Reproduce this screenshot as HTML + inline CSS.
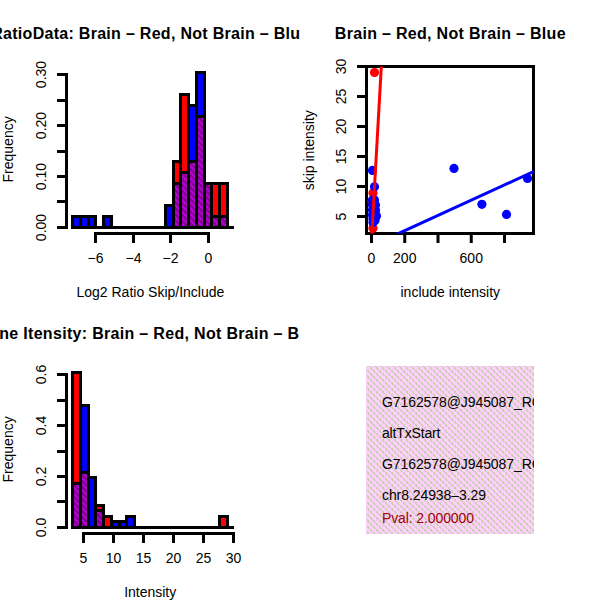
<!DOCTYPE html><html><head><meta charset="utf-8"><style>html,body{margin:0;padding:0;background:#fff;}svg{display:block;}</style></head><body>
<svg width="600" height="600" viewBox="0 0 600 600" style="font-family:'Liberation Sans', sans-serif">
<defs>
<pattern id="hatch" patternUnits="userSpaceOnUse" width="6" height="6" x="1" y="1"><rect width="6" height="6" fill="#b200d2"/><path d="M2,0h1v1h-1zM3,0h1v1h-1zM4,0h1v1h-1zM3,1h1v1h-1zM4,1h1v1h-1zM5,1h1v1h-1zM4,2h1v1h-1zM5,2h1v1h-1zM0,2h1v1h-1zM5,3h1v1h-1zM0,3h1v1h-1zM1,3h1v1h-1zM0,4h1v1h-1zM1,4h1v1h-1zM2,4h1v1h-1zM1,5h1v1h-1zM2,5h1v1h-1zM3,5h1v1h-1z" fill="#82008f" shape-rendering="crispEdges"/></pattern>
<pattern id="pink" patternUnits="userSpaceOnUse" width="6" height="6" x="1" y="1"><rect width="6" height="6" fill="#ffd0ff"/><path d="M3,0h1v1h-1zM4,0h1v1h-1zM3,1h1v1h-1zM4,1h1v1h-1zM4,2h1v1h-1zM5,2h1v1h-1zM0,3h1v1h-1zM1,3h1v1h-1zM0,4h1v1h-1zM1,4h1v1h-1zM1,5h1v1h-1zM2,5h1v1h-1z" fill="#cbd0b0" shape-rendering="crispEdges"/></pattern>
<clipPath id="c1"><rect x="0" y="0" width="300" height="300"/></clipPath>
<clipPath id="c2"><rect x="300" y="0" width="300" height="300"/></clipPath>
<clipPath id="c3"><rect x="0" y="300" width="300" height="300"/></clipPath>
<clipPath id="c2plot"><rect x="366.5" y="66.5" width="167" height="167"/></clipPath>
<clipPath id="c4plot"><rect x="366" y="366" width="168" height="168"/></clipPath>
</defs>
<g clip-path="url(#c1)">
<text x="150.2" y="38.8" text-anchor="middle" font-size="16" font-weight="bold" textLength="318" lengthAdjust="spacing">RatioData: Brain – Red, Not Brain – Blue</text>
<rect x="65" y="73" width="3" height="156" fill="#000"/>
<rect x="57" y="73.0" width="11" height="3" fill="#000"/>
<rect x="57" y="99.0" width="11" height="3" fill="#000"/>
<rect x="57" y="124.0" width="11" height="3" fill="#000"/>
<rect x="57" y="150.0" width="11" height="3" fill="#000"/>
<rect x="57" y="175.0" width="11" height="3" fill="#000"/>
<rect x="57" y="200.0" width="11" height="3" fill="#000"/>
<rect x="57" y="226.0" width="11" height="3" fill="#000"/>
<text transform="translate(46,227.5) rotate(-90)" text-anchor="middle" font-size="14">0.00</text>
<text transform="translate(46,176.5) rotate(-90)" text-anchor="middle" font-size="14">0.10</text>
<text transform="translate(46,125.5) rotate(-90)" text-anchor="middle" font-size="14">0.20</text>
<text transform="translate(46,74.5) rotate(-90)" text-anchor="middle" font-size="14">0.30</text>
<text transform="translate(13.3,149.4) rotate(-90)" text-anchor="middle" font-size="14">Frequency</text>
<rect x="94" y="232" width="116" height="3" fill="#000"/>
<rect x="94.0" y="232" width="3" height="11" fill="#000"/>
<text x="95.5" y="263" text-anchor="middle" font-size="14">−6</text>
<rect x="132.0" y="232" width="3" height="11" fill="#000"/>
<text x="133.5" y="263" text-anchor="middle" font-size="14">−4</text>
<rect x="169.0" y="232" width="3" height="11" fill="#000"/>
<text x="170.5" y="263" text-anchor="middle" font-size="14">−2</text>
<rect x="207.0" y="232" width="3" height="11" fill="#000"/>
<text x="208.5" y="263" text-anchor="middle" font-size="14">0</text>
<text x="150.4" y="296.9" text-anchor="middle" font-size="14">Log2 Ratio Skip/Include</text>
<rect x="71" y="226.0" width="163" height="3" fill="#000"/>
<rect x="173.5" y="161.5" width="7.0" height="66.0" fill="#f00" stroke="#000" stroke-width="3"/>
<rect x="180.5" y="94.5" width="8.0" height="133.0" fill="#f00" stroke="#000" stroke-width="3"/>
<rect x="188.5" y="161.5" width="8.0" height="66.0" fill="#f00" stroke="#000" stroke-width="3"/>
<rect x="196.5" y="116.5" width="8.0" height="111.0" fill="#f00" stroke="#000" stroke-width="3"/>
<rect x="204.5" y="183.5" width="7.0" height="44.0" fill="#f00" stroke="#000" stroke-width="3"/>
<rect x="211.5" y="183.5" width="8.0" height="44.0" fill="#f00" stroke="#000" stroke-width="3"/>
<rect x="219.5" y="183.5" width="8.0" height="44.0" fill="#f00" stroke="#000" stroke-width="3"/>
<rect x="72.5" y="216.5" width="8.0" height="11.0" fill="#00f" stroke="#000" stroke-width="3"/>
<rect x="80.5" y="216.5" width="8.0" height="11.0" fill="#00f" stroke="#000" stroke-width="3"/>
<rect x="88.5" y="216.5" width="7.0" height="11.0" fill="#00f" stroke="#000" stroke-width="3"/>
<rect x="103.5" y="216.5" width="8.0" height="11.0" fill="#00f" stroke="#000" stroke-width="3"/>
<rect x="165.5" y="205.5" width="8.0" height="22.0" fill="#00f" stroke="#000" stroke-width="3"/>
<rect x="173.5" y="183.5" width="7.0" height="44.0" fill="#00f" stroke="#000" stroke-width="3"/>
<rect x="180.5" y="172.5" width="8.0" height="55.0" fill="#00f" stroke="#000" stroke-width="3"/>
<rect x="188.5" y="105.5" width="8.0" height="122.0" fill="#00f" stroke="#000" stroke-width="3"/>
<rect x="196.5" y="72.5" width="8.0" height="155.0" fill="#00f" stroke="#000" stroke-width="3"/>
<rect x="204.5" y="183.5" width="7.0" height="44.0" fill="#00f" stroke="#000" stroke-width="3"/>
<rect x="211.5" y="216.5" width="8.0" height="11.0" fill="#00f" stroke="#000" stroke-width="3"/>
<rect x="219.5" y="216.5" width="8.0" height="11.0" fill="#00f" stroke="#000" stroke-width="3"/>
<rect x="173.5" y="183.5" width="7.0" height="44.0" fill="url(#hatch)" stroke="#000" stroke-width="3"/>
<rect x="180.5" y="172.5" width="8.0" height="55.0" fill="url(#hatch)" stroke="#000" stroke-width="3"/>
<rect x="188.5" y="161.5" width="8.0" height="66.0" fill="url(#hatch)" stroke="#000" stroke-width="3"/>
<rect x="196.5" y="116.5" width="8.0" height="111.0" fill="url(#hatch)" stroke="#000" stroke-width="3"/>
<rect x="204.5" y="183.5" width="7.0" height="44.0" fill="url(#hatch)" stroke="#000" stroke-width="3"/>
<rect x="211.5" y="216.5" width="8.0" height="11.0" fill="url(#hatch)" stroke="#000" stroke-width="3"/>
<rect x="219.5" y="216.5" width="8.0" height="11.0" fill="url(#hatch)" stroke="#000" stroke-width="3"/>
</g>
<g clip-path="url(#c2)">
<text x="450.2" y="38.8" text-anchor="middle" font-size="16" font-weight="bold" textLength="230.8" lengthAdjust="spacing">Brain – Red, Not Brain – Blue</text>
<rect x="357" y="215.0" width="10" height="3" fill="#000"/>
<text transform="translate(345.8,216.5) rotate(-90)" text-anchor="middle" font-size="14">5</text>
<rect x="357" y="185.0" width="10" height="3" fill="#000"/>
<text transform="translate(345.8,186.5) rotate(-90)" text-anchor="middle" font-size="14">10</text>
<rect x="357" y="155.0" width="10" height="3" fill="#000"/>
<text transform="translate(345.8,156.5) rotate(-90)" text-anchor="middle" font-size="14">15</text>
<rect x="357" y="125.0" width="10" height="3" fill="#000"/>
<text transform="translate(345.8,126.5) rotate(-90)" text-anchor="middle" font-size="14">20</text>
<rect x="357" y="95.0" width="10" height="3" fill="#000"/>
<text transform="translate(345.8,96.5) rotate(-90)" text-anchor="middle" font-size="14">25</text>
<rect x="357" y="65.0" width="10" height="3" fill="#000"/>
<text transform="translate(345.8,66.5) rotate(-90)" text-anchor="middle" font-size="14">30</text>
<text transform="translate(313.7,150.2) rotate(-90)" text-anchor="middle" font-size="14">skip intensity</text>
<rect x="370.0" y="233" width="3" height="10" fill="#000"/>
<rect x="403.25" y="233" width="3" height="10" fill="#000"/>
<rect x="436.5" y="233" width="3" height="10" fill="#000"/>
<rect x="469.75" y="233" width="3" height="10" fill="#000"/>
<rect x="503.0" y="233" width="3" height="10" fill="#000"/>
<text x="371.5" y="263" text-anchor="middle" font-size="14">0</text>
<text x="404.75" y="263" text-anchor="middle" font-size="14">200</text>
<text x="471.25" y="263" text-anchor="middle" font-size="14">600</text>
<text x="450.3" y="296.6" text-anchor="middle" font-size="14">include intensity</text>
<rect x="366.5" y="66.5" width="167" height="167" fill="none" stroke="#000" stroke-width="3"/>
<g clip-path="url(#c2plot)">
<circle cx="374.5" cy="72.5" r="4.6" fill="#f00"/>
<circle cx="373" cy="193" r="4.6" fill="#f00"/>
<circle cx="373" cy="228.3" r="4.6" fill="#f00"/>
<circle cx="372" cy="201.5" r="4.6" fill="#f00"/>
<circle cx="454" cy="168.4" r="4.6" fill="#00f"/>
<circle cx="481.9" cy="204.3" r="4.6" fill="#00f"/>
<circle cx="506.5" cy="214.4" r="4.6" fill="#00f"/>
<circle cx="527.5" cy="178.5" r="4.6" fill="#00f"/>
<circle cx="372.5" cy="170.4" r="4.6" fill="#00f"/>
<circle cx="374.5" cy="186.8" r="4.6" fill="#00f"/>
<circle cx="372.5" cy="200" r="4.6" fill="#00f"/>
<circle cx="374.5" cy="200" r="4.6" fill="#00f"/>
<circle cx="375.5" cy="205" r="4.6" fill="#00f"/>
<circle cx="372.5" cy="205" r="4.6" fill="#00f"/>
<circle cx="375.5" cy="210" r="4.6" fill="#00f"/>
<circle cx="372.5" cy="210" r="4.6" fill="#00f"/>
<circle cx="375.5" cy="214" r="4.6" fill="#00f"/>
<circle cx="376.5" cy="216" r="4.6" fill="#00f"/>
<circle cx="372.5" cy="215" r="4.6" fill="#00f"/>
<circle cx="373" cy="219" r="4.6" fill="#00f"/>
<circle cx="373" cy="222.5" r="4.6" fill="#00f"/>
<circle cx="375" cy="220.5" r="4.6" fill="#00f"/>
<line x1="396" y1="234.7" x2="535" y2="171" stroke="#00f" stroke-width="3"/>
<line x1="371.8" y1="235" x2="381.4" y2="65" stroke="#f00" stroke-width="3"/>
</g>
</g>
<g clip-path="url(#c3)">
<text x="150.2" y="338.8" text-anchor="middle" font-size="16" font-weight="bold" textLength="346" lengthAdjust="spacing">Gene Itensity: Brain – Red, Not Brain – Blue</text>
<rect x="65" y="373" width="3" height="156" fill="#000"/>
<rect x="57" y="373.0" width="11" height="3" fill="#000"/>
<rect x="57" y="399.0" width="11" height="3" fill="#000"/>
<rect x="57" y="424.0" width="11" height="3" fill="#000"/>
<rect x="57" y="450.0" width="11" height="3" fill="#000"/>
<rect x="57" y="475.0" width="11" height="3" fill="#000"/>
<rect x="57" y="500.0" width="11" height="3" fill="#000"/>
<rect x="57" y="526.0" width="11" height="3" fill="#000"/>
<text transform="translate(46,527.5) rotate(-90)" text-anchor="middle" font-size="14">0.0</text>
<text transform="translate(46,476.5) rotate(-90)" text-anchor="middle" font-size="14">0.2</text>
<text transform="translate(46,425.5) rotate(-90)" text-anchor="middle" font-size="14">0.4</text>
<text transform="translate(46,374.5) rotate(-90)" text-anchor="middle" font-size="14">0.6</text>
<text transform="translate(13.3,449.4) rotate(-90)" text-anchor="middle" font-size="14">Frequency</text>
<rect x="82" y="532" width="153" height="3" fill="#000"/>
<rect x="82.0" y="532" width="3" height="11" fill="#000"/>
<text x="83.5" y="563" text-anchor="middle" font-size="14">5</text>
<rect x="112.0" y="532" width="3" height="11" fill="#000"/>
<text x="113.5" y="563" text-anchor="middle" font-size="14">10</text>
<rect x="142.0" y="532" width="3" height="11" fill="#000"/>
<text x="143.5" y="563" text-anchor="middle" font-size="14">15</text>
<rect x="172.0" y="532" width="3" height="11" fill="#000"/>
<text x="173.5" y="563" text-anchor="middle" font-size="14">20</text>
<rect x="202.0" y="532" width="3" height="11" fill="#000"/>
<text x="203.5" y="563" text-anchor="middle" font-size="14">25</text>
<rect x="232.0" y="532" width="3" height="11" fill="#000"/>
<text x="233.5" y="563" text-anchor="middle" font-size="14">30</text>
<text x="150.2" y="597" text-anchor="middle" font-size="14">Intensity</text>
<rect x="71" y="526.0" width="163" height="3" fill="#000"/>
<rect x="72.5" y="372.5" width="8.0" height="155.0" fill="#f00" stroke="#000" stroke-width="3"/>
<rect x="80.5" y="472.5" width="8.0" height="55.0" fill="#f00" stroke="#000" stroke-width="3"/>
<rect x="95.5" y="505.5" width="8.0" height="22.0" fill="#f00" stroke="#000" stroke-width="3"/>
<rect x="103.5" y="516.5" width="8.0" height="11.0" fill="#f00" stroke="#000" stroke-width="3"/>
<rect x="219.5" y="516.5" width="8.0" height="11.0" fill="#f00" stroke="#000" stroke-width="3"/>
<rect x="72.5" y="483.5" width="8.0" height="44.0" fill="#00f" stroke="#000" stroke-width="3"/>
<rect x="80.5" y="405.5" width="8.0" height="122.0" fill="#00f" stroke="#000" stroke-width="3"/>
<rect x="88.5" y="477.5" width="7.0" height="50.0" fill="#00f" stroke="#000" stroke-width="3"/>
<rect x="95.5" y="510.5" width="8.0" height="17.0" fill="#00f" stroke="#000" stroke-width="3"/>
<rect x="111.5" y="521.5" width="8.0" height="6.0" fill="#00f" stroke="#000" stroke-width="3"/>
<rect x="119.5" y="521.5" width="7.0" height="6.0" fill="#00f" stroke="#000" stroke-width="3"/>
<rect x="126.5" y="516.5" width="8.0" height="11.0" fill="#00f" stroke="#000" stroke-width="3"/>
<rect x="72.5" y="483.5" width="8.0" height="44.0" fill="url(#hatch)" stroke="#000" stroke-width="3"/>
<rect x="80.5" y="472.5" width="8.0" height="55.0" fill="url(#hatch)" stroke="#000" stroke-width="3"/>
<rect x="95.5" y="510.5" width="8.0" height="17.0" fill="url(#hatch)" stroke="#000" stroke-width="3"/>
</g>
<rect x="366" y="366" width="168" height="168" fill="url(#pink)"/>
<g clip-path="url(#c4plot)" font-size="14">
<text x="382" y="406.7" textLength="159.8" lengthAdjust="spacing">G7162578@J945087_RC</text>
<text x="382" y="437.8" textLength="58.4" lengthAdjust="spacing">altTxStart</text>
<text x="382" y="468.5" textLength="159.8" lengthAdjust="spacing">G7162578@J945087_RC</text>
<text x="382" y="499.6" textLength="104" lengthAdjust="spacing">chr8.24938–3.29</text>
<text x="382" y="522.5" fill="#a00000" textLength="92" lengthAdjust="spacing">Pval: 2.000000</text>
</g>
</svg></body></html>
